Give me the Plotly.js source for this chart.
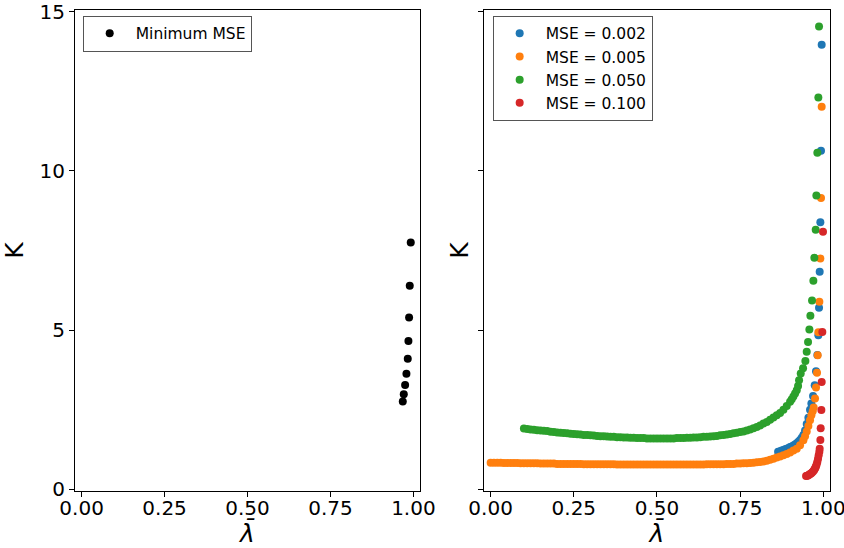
<!DOCTYPE html>
<html>
<head>
<meta charset="utf-8">
<script src="https://cdn.plot.ly/plotly-3.0.1.min.js"></script>
<style>html,body{margin:0;padding:0;background:#fff;}#chart{width:844px;height:548px;}</style>
</head>
<body>
<div id="chart"></div>
<script>
// Left panel: minimum MSE
const lamMin = [0.968, 0.971, 0.975, 0.979, 0.983, 0.985, 0.987, 0.989, 0.992];
const kMin   = [2.76, 2.99, 3.28, 3.63, 4.10, 4.66, 5.40, 6.39, 7.75];

// Right panel: MSE = 0.002 (blue)
const lam002 = [0.864,0.87,0.875,0.88,0.885,0.89,0.895,0.90,0.905,0.91,0.915,0.92,0.925,0.93,0.935,0.94,0.945,0.95,0.955,0.96,0.964,
  0.969,0.974,0.978,0.982,0.985,0.987,0.989,0.991,0.993,0.995];
const k002 = [1.18,1.20,1.22,1.24,1.26,1.28,1.30,1.33,1.35,1.38,1.41,1.45,1.50,1.55,1.62,1.71,1.85,2.05,2.25,2.50,2.70,
  2.93,3.27,3.71,4.22,4.84,5.70,6.83,8.39,10.63,13.96];

// MSE = 0.005 (orange)
const lam005 = [0.00,0.01,0.02,0.03,0.04,0.05,0.06,0.07,0.08,0.09,
  0.10,0.11,0.12,0.13,0.14,0.15,0.16,0.17,0.18,0.19,
  0.20,0.21,0.22,0.23,0.24,0.25,0.26,0.27,0.28,0.29,
  0.30,0.31,0.32,0.33,0.34,0.35,0.36,0.37,0.38,0.39,
  0.40,0.41,0.42,0.43,0.44,0.45,0.46,0.47,0.48,0.49,
  0.50,0.51,0.52,0.53,0.54,0.55,0.56,0.57,0.58,0.59,
  0.60,0.61,0.62,0.63,0.64,0.65,0.66,0.67,0.68,0.69,
  0.70,0.71,0.72,0.73,0.74,0.75,0.76,0.77,0.78,0.79,
  0.80,0.81,0.82,0.83,0.84,0.85,0.86,0.87,0.88,0.89,
  0.90,0.91,0.92,0.93,0.94,0.945,0.95,0.955,0.96,0.964,0.968,
  0.971,0.975,0.978,0.981,0.983,0.985,0.988,0.991,0.993,0.995];
const k005 = [0.84,0.84,0.84,0.84,0.83,0.83,0.83,0.83,0.83,0.82,
  0.82,0.82,0.82,0.82,0.82,0.81,0.81,0.81,0.81,0.81,
  0.80,0.80,0.80,0.80,0.80,0.80,0.80,0.80,0.79,0.79,
  0.79,0.79,0.79,0.79,0.79,0.79,0.79,0.79,0.78,0.78,
  0.78,0.78,0.78,0.78,0.78,0.78,0.78,0.78,0.78,0.78,
  0.78,0.78,0.78,0.78,0.78,0.78,0.78,0.78,0.78,0.78,
  0.78,0.78,0.78,0.78,0.78,0.79,0.79,0.79,0.79,0.79,
  0.79,0.80,0.80,0.80,0.81,0.81,0.82,0.82,0.83,0.84,
  0.85,0.86,0.88,0.90,0.93,0.96,1.00,1.03,1.07,1.11,
  1.16,1.22,1.28,1.39,1.54,1.67,1.82,1.99,2.17,2.33,2.45,
  2.57,2.85,3.20,3.66,4.21,4.93,5.89,7.25,9.15,12.01];

// MSE = 0.050 (green)
const lam050 = [0.10,0.11,0.12,0.13,0.14,0.15,0.16,0.17,0.18,0.19,
  0.20,0.21,0.22,0.23,0.24,0.25,0.26,0.27,0.28,0.29,
  0.30,0.31,0.32,0.33,0.34,0.35,0.36,0.37,0.38,0.39,
  0.40,0.41,0.42,0.43,0.44,0.45,0.46,0.47,0.48,0.49,
  0.50,0.51,0.52,0.53,0.54,0.55,0.56,0.57,0.58,0.59,
  0.60,0.61,0.62,0.63,0.64,0.65,0.66,0.67,0.68,0.69,
  0.70,0.71,0.72,0.73,0.74,0.75,0.76,0.77,0.78,0.79,
  0.80,0.81,0.82,0.83,0.84,0.85,0.86,0.87,0.88,0.89,
  0.90,0.905,0.91,0.915,0.92,0.924,
  0.927,0.932,0.939,0.946,0.950,0.954,0.958,0.961,0.966,0.970,0.973,0.977,0.979,0.982,0.985,0.987];
const k050 = [1.91,1.90,1.88,1.87,1.86,1.85,1.84,1.83,1.81,1.80,
  1.79,1.78,1.77,1.76,1.75,1.74,1.73,1.72,1.71,1.71,
  1.70,1.69,1.68,1.67,1.67,1.66,1.65,1.65,1.64,1.64,
  1.63,1.63,1.62,1.62,1.61,1.61,1.61,1.60,1.60,1.60,
  1.60,1.60,1.60,1.60,1.60,1.60,1.61,1.61,1.61,1.62,
  1.62,1.63,1.63,1.64,1.65,1.65,1.66,1.67,1.68,1.70,
  1.71,1.72,1.74,1.76,1.78,1.80,1.82,1.85,1.88,1.92,
  1.96,2.01,2.07,2.12,2.19,2.26,2.33,2.40,2.50,2.62,
  2.75,2.83,2.92,3.01,3.11,3.25,
  3.43,3.64,3.80,4.03,4.32,4.63,5.02,5.45,5.93,6.55,7.27,8.15,9.23,10.57,12.30,14.53];

// MSE = 0.100 (red)
const lam100 = [0.948,0.951,0.954,0.957,0.960,0.963,0.966,0.969,0.972,0.974,0.976,0.978,0.980,0.982,0.984,0.986,0.988,
  0.989,0.991,0.992,0.994,0.995,0.997,0.999];
const k100 = [0.42,0.43,0.44,0.46,0.48,0.50,0.53,0.56,0.60,0.64,0.68,0.73,0.79,0.87,0.96,1.07,1.18,
  1.28,1.55,1.92,2.49,3.37,4.94,8.09];

const xTicks = [0, 0.25, 0.5, 0.75, 1.0];
const xTickText = ['0.00', '0.25', '0.50', '0.75', '1.00'];
const yTicks = [0, 5, 10, 15];
const yTickText = ['0', '5', '10', '15'];

const FONT = 'DejaVu Sans, Liberation Sans, sans-serif';
const mk = (c) => ({color: c, size: 8, line: {width: 0}});

const traces = [
  {x: lamMin, y: kMin, type: 'scatter', mode: 'markers', name: 'Minimum MSE', marker: mk('#000000'), xaxis: 'x', yaxis: 'y', legend: 'legend'},
  {x: lam002, y: k002, type: 'scatter', mode: 'markers', name: 'MSE = 0.002', marker: mk('#1f77b4'), xaxis: 'x2', yaxis: 'y2', legend: 'legend2'},
  {x: lam005, y: k005, type: 'scatter', mode: 'markers', name: 'MSE = 0.005', marker: mk('#ff7f0e'), xaxis: 'x2', yaxis: 'y2', legend: 'legend2'},
  {x: lam050, y: k050, type: 'scatter', mode: 'markers', name: 'MSE = 0.050', marker: mk('#2ca02c'), xaxis: 'x2', yaxis: 'y2', legend: 'legend2'},
  {x: lam100, y: k100, type: 'scatter', mode: 'markers', name: 'MSE = 0.100', marker: mk('#d62728'), xaxis: 'x2', yaxis: 'y2', legend: 'legend2'}
];

const xTitle = {text: '<i>λ̄</i>', font: {family: 'DejaVu Sans', size: 25, color: '#000'}, standoff: 2};
const xBase = {
  range: [-0.02, 1.02], tickvals: xTicks, ticktext: xTickText,
  showline: true, mirror: true, linecolor: '#000', linewidth: 1,
  ticks: 'outside', ticklen: 5, tickwidth: 1, tickcolor: '#000',
  ticklabelstandoff: -6, ticklabeloverflow: 'allow',
  showgrid: false, zeroline: false,
  tickfont: {family: FONT, size: 20, color: '#000'},
  title: xTitle
};
const yBase = {
  range: [-0.05, 15.05], tickvals: yTicks, ticktext: yTickText,
  showline: true, mirror: true, linecolor: '#000', linewidth: 1,
  ticks: 'outside', ticklen: 5, tickwidth: 1, tickcolor: '#000',
  ticklabeloverflow: 'allow',
  showgrid: false, zeroline: false,
  tickfont: {family: FONT, size: 20, color: '#000'},
  title: {text: 'K', font: {family: FONT, size: 25, color: '#000'}, standoff: 8}
};

const legendBase = {
  xanchor: 'left', yanchor: 'top',
  bgcolor: '#ffffff', bordercolor: '#555', borderwidth: 1,
  font: {family: FONT, size: 15.5, color: '#000'},
  itemsizing: 'trace', itemwidth: 42
};

const layout = {
  width: 844, height: 548,
  margin: {l: 75, r: 14, t: 10, b: 57},
  paper_bgcolor: '#fff', plot_bgcolor: '#fff',
  showlegend: true,
  font: {family: FONT, color: '#000'},
  xaxis: Object.assign({}, xBase, {domain: [0, 0.457], anchor: 'y'}),
  yaxis: Object.assign({}, yBase, {domain: [0, 1], anchor: 'x'}),
  xaxis2: Object.assign({}, xBase, {domain: [0.5417, 1], anchor: 'y2'}),
  yaxis2: Object.assign({}, yBase, {domain: [0, 1], anchor: 'x2', showticklabels: false, title: {text: 'K', font: {family: FONT, size: 25, color: '#000'}, standoff: 2}}),
  legend: Object.assign({}, legendBase, {x: 0.0102, y: 0.988}),
  legend2: Object.assign({}, legendBase, {x: 0.5532, y: 0.988})
};

Plotly.newPlot('chart', traces, layout, {staticPlot: true, displayModeBar: false});
</script>
</body>
</html>
